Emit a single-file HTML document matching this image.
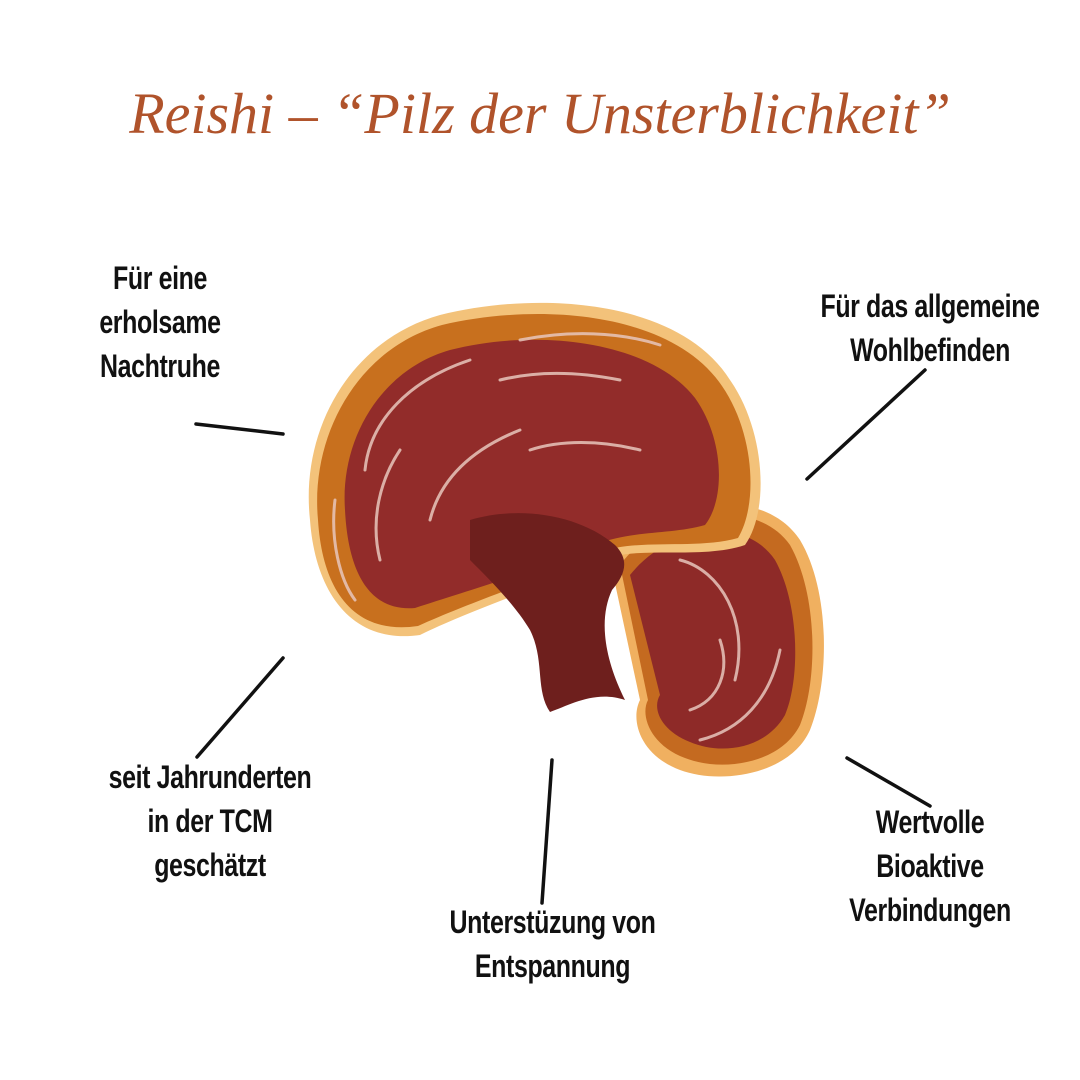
<!DOCTYPE html>
<html><head><meta charset="utf-8"><style>
html,body{margin:0;padding:0;background:#fff;}
body{width:1080px;height:1080px;position:relative;overflow:hidden;}
.t{position:absolute;left:0;width:1080px;top:80px;text-align:center;font-family:"Liberation Serif",serif;font-style:italic;font-size:58px;color:#b0532b;}
.l{position:absolute;font-family:"Liberation Sans",sans-serif;font-weight:bold;font-size:32px;line-height:44px;color:#111;text-align:center;transform:scaleX(0.78);letter-spacing:-0.5px;}
svg{position:absolute;left:0;top:0;}
</style></head><body>
<div class="t">Reishi – “Pilz der Unsterblichkeit”</div>
<svg width="1080" height="1080">
<!-- back cap -->
<path d="M610,560 C650,500 760,480 800,540 C830,590 830,680 810,730 C790,775 720,785 680,770 C640,755 630,720 640,700 Z" fill="#f0b060"/>
<path d="M620,565 C660,510 755,495 790,545 C818,595 818,680 800,725 C780,765 720,772 685,758 C650,745 640,715 648,700 Z" fill="#c46a20"/>
<path d="M630,575 C670,525 745,515 775,560 C800,605 800,680 785,715 C765,750 720,755 690,742 C660,730 652,708 660,695 Z" fill="#8e2a28"/>
<!-- front cap -->
<path d="M310,520 C300,430 350,340 440,315 C540,290 680,300 730,380 C765,430 770,510 745,545 C700,560 640,545 600,560 C560,580 470,610 420,635 C350,645 315,590 310,520 Z" fill="#f3c27a"/>
<path d="M318,520 C310,435 358,348 442,325 C540,302 672,312 722,386 C755,434 758,505 738,538 C695,550 640,538 600,552 C560,572 470,602 418,626 C350,636 322,585 318,520 Z" fill="#c8701e"/>
<path d="M345,510 C340,440 380,370 450,350 C535,328 650,340 695,398 C725,440 725,500 705,525 C670,535 630,530 595,545 C555,565 470,590 415,608 C368,612 348,570 345,510 Z" fill="#922c2a"/>
<!-- stem -->
<path d="M470,520 C520,505 580,515 615,545 C630,560 625,575 612,590 C598,620 605,660 625,700 C595,690 570,705 550,712 C535,690 545,660 530,630 C515,605 490,580 470,560 Z" fill="#6e1f1d"/>
<g stroke="#e8c6bc" stroke-width="3" fill="none" stroke-linecap="round" opacity=".85">
<path d="M365,470 C370,420 410,380 470,360"/>
<path d="M520,340 C570,330 620,332 660,345"/>
<path d="M380,560 C370,520 380,480 400,450"/>
<path d="M500,380 C540,370 580,372 620,380"/>
<path d="M430,520 C440,480 470,450 520,430"/>
<path d="M530,450 C560,440 600,440 640,450"/>
<path d="M680,560 C720,570 750,620 735,680"/>
<path d="M700,740 C740,730 770,700 780,650"/>
<path d="M690,710 C720,700 730,670 720,640"/>
<path d="M335,500 C330,540 340,580 355,600"/>
</g>
<g stroke="#111" stroke-width="3.5" stroke-linecap="round">
<line x1="196" y1="424" x2="283" y2="434"/>
<line x1="807" y1="479" x2="925" y2="370"/>
<line x1="197" y1="757" x2="283" y2="658"/>
<line x1="552" y1="760" x2="542" y2="903"/>
<line x1="847" y1="758" x2="930" y2="806"/>
</g>
</svg>
<div class="l" style="left:60px;top:256px;width:200px;">Für eine<br>erholsame<br>Nachtruhe</div>
<div class="l" style="left:780px;top:284px;width:300px;">Für das allgemeine<br>Wohlbefinden</div>
<div class="l" style="left:40px;top:755px;width:340px;">seit Jahrunderten<br>in der TCM<br>geschätzt</div>
<div class="l" style="left:390px;top:900px;width:325px;">Unterstüzung von<br>Entspannung</div>
<div class="l" style="left:800px;top:800px;width:260px;">Wertvolle<br>Bioaktive<br>Verbindungen</div>
</body></html>
